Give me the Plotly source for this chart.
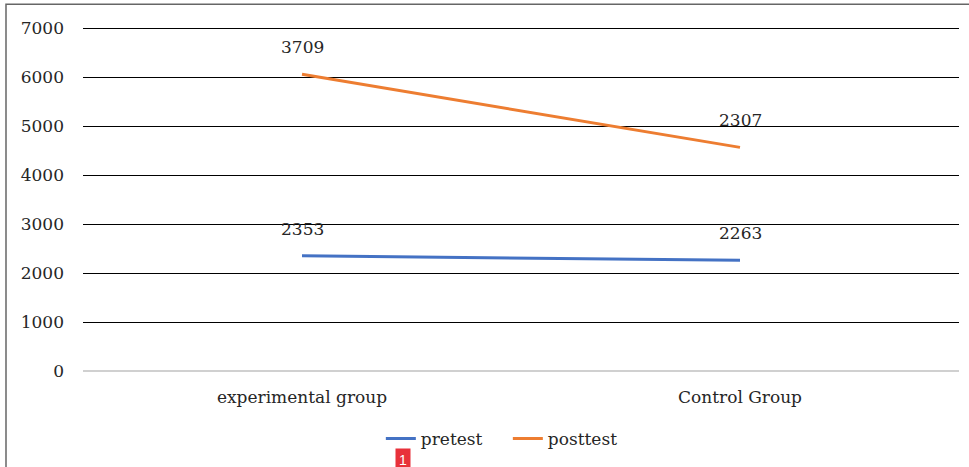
import plotly.graph_objects as go
import numpy as np

categories = ["experimental group", "Control Group"]
pretest = [2353, 2263]
posttest = [3709, 2307]
y_ticks = [0, 1000, 2000, 3000, 4000, 5000, 6000, 7000]

pre = np.array(pretest)
post_stacked = pre + np.array(posttest)

FONT = "DejaVu Serif"
TXT = "#262626"
fig = go.Figure()
fig.add_trace(go.Scatter(x=categories, y=pre, name="pretest", mode="lines",
                         line=dict(color="#4472C4", width=3)))
fig.add_trace(go.Scatter(x=categories, y=post_stacked, name="posttest", mode="lines",
                         line=dict(color="#ED7D31", width=3)))

for ys, vals in [(pre, pretest), (post_stacked, posttest)]:
    for c, yv, v in zip(categories, ys, vals):
        fig.add_annotation(x=c, y=yv, text=str(v), showarrow=False, yshift=27,
                           font=dict(family=FONT, size=17, color=TXT))

fig.add_annotation(xref="paper", yref="paper", x=0.365, y=-0.222, xanchor="center", yanchor="top",
                   text="1", showarrow=False, bgcolor="#E8313A", borderpad=3,
                   font=dict(family="Arial", size=14, color="white"))

fig.add_shape(type="rect", xref="paper", yref="paper", x0=-0.0879, x1=1.2, y0=-0.6, y1=1.0633,
              line=dict(color="#666", width=1.5), fillcolor="rgba(0,0,0,0)", layer="below")

fig.update_layout(
    width=969, height=467,
    margin=dict(l=83, r=10, t=26, b=96),
    paper_bgcolor="white", plot_bgcolor="white",
    font=dict(family=FONT, size=17, color=TXT),
    showlegend=True,
    legend=dict(orientation="h", x=0.34, xanchor="left", y=-0.197, yanchor="middle",
                font=dict(family=FONT, size=17, color=TXT), entrywidth=82),
    xaxis=dict(type="category", range=[-0.5, 1.5], showgrid=False, showline=False,
               ticks="", ticklabelstandoff=14, tickfont=dict(family=FONT, size=17, color=TXT)),
    yaxis=dict(range=[0, 7050], tickvals=y_ticks, showgrid=True, gridcolor="black", gridwidth=1,
               zeroline=True, zerolinecolor="#D0D0D0", zerolinewidth=2,
               ticks="", ticklabelstandoff=18, tickfont=dict(family=FONT, size=17, color=TXT)),
)
fig.write_html("out.html", config={"displayModeBar": False},
               post_script="document.body.style.margin='0';")
